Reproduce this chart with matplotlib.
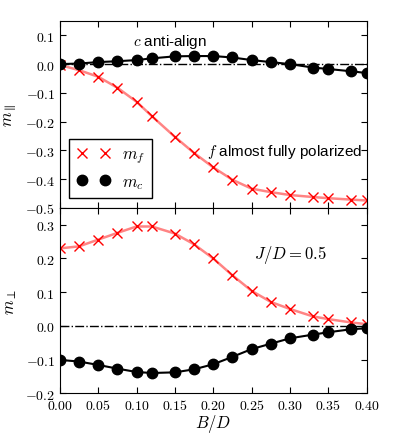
import matplotlib
matplotlib.use("Agg")
import matplotlib.pyplot as plt
from matplotlib.ticker import FormatStrFormatter, MultipleLocator

B_D = [0.0, 0.025, 0.05, 0.075, 0.1, 0.12, 0.15, 0.175, 0.2, 0.225, 0.25,
       0.275, 0.3, 0.33, 0.35, 0.38, 0.4]

# parallel component
mf_par = [-0.003, -0.021, -0.044, -0.082, -0.131, -0.181, -0.253, -0.309,
          -0.359, -0.402, -0.433, -0.445, -0.455, -0.462, -0.466, -0.471, -0.474]
mc_par = [0.0, 0.002, 0.007, 0.010, 0.014, 0.020, 0.027, 0.028, 0.028,
          0.023, 0.014, 0.007, 0.0, -0.012, -0.017, -0.025, -0.031]

# perpendicular component
mf_perp = [0.230, 0.236, 0.256, 0.276, 0.295, 0.295, 0.274, 0.242, 0.200,
           0.150, 0.104, 0.071, 0.050, 0.028, 0.020, 0.010, 0.005]
mc_perp = [-0.101, -0.106, -0.116, -0.127, -0.137, -0.140, -0.138, -0.129,
           -0.114, -0.092, -0.069, -0.053, -0.037, -0.026, -0.019, -0.010, -0.007]

plt.rcParams["mathtext.fontset"] = "cm"
plt.rcParams["font.family"] = ["Liberation Sans", "DejaVu Sans"]
plt.rcParams["xtick.direction"] = "in"
plt.rcParams["ytick.direction"] = "in"
plt.rcParams["xtick.top"] = True
plt.rcParams["ytick.right"] = True
plt.rcParams["xtick.major.size"] = 4
plt.rcParams["ytick.major.size"] = 4


def dibujar(ax, mf, mc):
    ax.plot(B_D, mf, "-", color="#ff6666", alpha=0.8, lw=1.8)
    ax.plot(B_D, mf, "x", color="red", ms=7, mew=1)
    ax.plot(B_D, mc, "-", color="black", lw=1.5)
    ax.plot(B_D, mc, "o", color="black", ms=7.5)
    ax.axhline(0, color="black", ls="-.", lw=1)
    ax.yaxis.set_major_locator(MultipleLocator(0.1))
    ax.yaxis.set_major_formatter(FormatStrFormatter("$%.1f$"))
    ax.tick_params(labelsize=10)


fig = plt.figure(figsize=(3.99, 4.39), dpi=100)
ax1 = fig.add_axes([0.150, 0.524, 0.769, 0.426])
ax2 = fig.add_axes([0.150, 0.102, 0.769, 0.422], sharex=ax1)

dibujar(ax1, mf_par, mc_par)
dibujar(ax2, mf_perp, mc_perp)

ax1.set_ylim(-0.5, 0.15)
ax2.set_ylim(-0.2, 0.35)
ax1.set_xlim(0, 0.4)
ax2.xaxis.set_major_locator(MultipleLocator(0.05))
ax2.xaxis.set_major_formatter(FormatStrFormatter("$%.2f$"))
ax1.tick_params(labelbottom=False)

ax1.set_ylabel(r"$m_\parallel$", fontsize=12)
ax2.set_ylabel(r"$m_\perp$", fontsize=12)
ax2.set_xlabel(r"$B/D$", fontsize=12, labelpad=0)

ax1.text(0.096, 0.079, r"$c$ anti-align", fontsize=11, va="center")
ax1.text(0.394, -0.303, r"$f$ almost fully polarized", fontsize=11,
         va="center", ha="right")
ax2.text(0.253, 0.214, r"$J/D = 0.5$", fontsize=12, va="center")

h1, = ax1.plot([], [], "x", color="red", ms=7, mew=1)
h2, = ax1.plot([], [], "o", color="black", ms=7.5)
leg = ax1.legend([h1, h2], [r"$m_f$", r"$m_c$"], loc="lower left",
                 bbox_to_anchor=(0.03, 0.053), borderaxespad=0,
                 numpoints=2, fontsize=12, fancybox=False,
                 edgecolor="black", framealpha=1, handlelength=2.0,
                 borderpad=0.45, labelspacing=0.5, handletextpad=0.7)
leg.get_frame().set_linewidth(1)

fig.savefig("out.png", dpi=100)
